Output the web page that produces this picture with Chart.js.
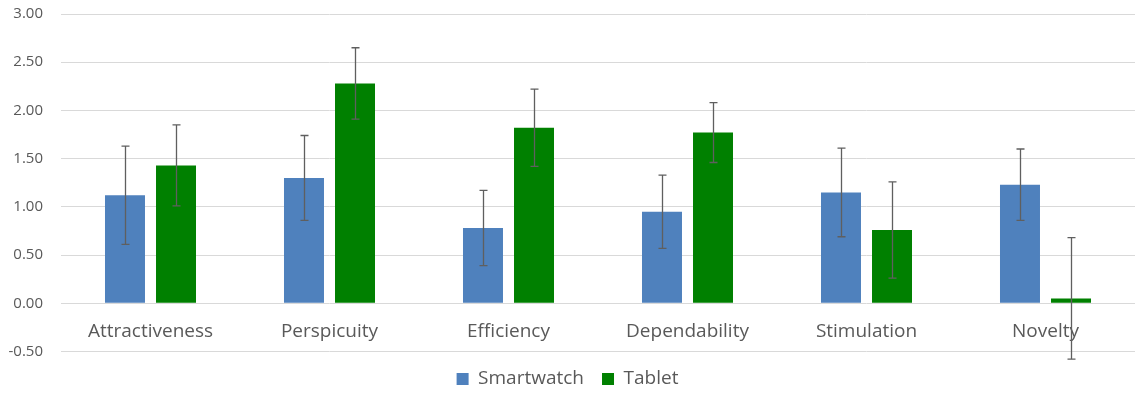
<!DOCTYPE html>
<html>
<head>
<meta charset="utf-8">
<script src="https://cdn.jsdelivr.net/npm/chart.js@4"></script>
<style>
  html, body { margin: 0; padding: 0; background: #ffffff; }
  #wrap { width: 1148px; height: 393px; }
</style>
</head>
<body>
<div id="wrap"><canvas id="c" width="1148" height="393"></canvas></div>
<script>
const categories = ["Attractiveness", "Perspicuity", "Efficiency", "Dependability", "Stimulation", "Novelty"];
const smartwatch = [1.12, 1.30, 0.78, 0.95, 1.15, 1.23];
const smartwatchErr = [0.51, 0.44, 0.39, 0.38, 0.46, 0.37];
const tablet = [1.43, 2.28, 1.82, 1.77, 0.76, 0.05];
const tabletErr = [0.42, 0.37, 0.40, 0.31, 0.50, 0.63];
const yTicks = [-0.5, 0, 0.5, 1, 1.5, 2, 2.5, 3];

const FONT = "'Open Sans', 'Liberation Sans', sans-serif";
const TEXT = "#595959";

const errorBars = {
  id: 'errorBars',
  afterDatasetsDraw(chart) {
    const ctx = chart.ctx;
    const y = chart.scales.y;
    chart.data.datasets.forEach((ds, di) => {
      const meta = chart.getDatasetMeta(di);
      meta.data.forEach((bar, i) => {
        const v = ds.data[i], e = ds.errors[i];
        const yt = y.getPixelForValue(v + e);
        const yb = y.getPixelForValue(v - e);
        const x = Math.round(bar.x) + 0.5;
        ctx.save();
        ctx.strokeStyle = '#5f5f5f';
        ctx.lineWidth = 1.3;
        ctx.beginPath();
        ctx.moveTo(x, yt); ctx.lineTo(x, yb);
        ctx.moveTo(x - 4, yt); ctx.lineTo(x + 4, yt);
        ctx.moveTo(x - 4, yb); ctx.lineTo(x + 4, yb);
        ctx.stroke();
        ctx.restore();
      });
    });
  }
};

new Chart(document.getElementById('c'), {
  type: 'bar',
  data: {
    labels: categories,
    datasets: [
      { label: 'Smartwatch', data: smartwatch, errors: smartwatchErr, backgroundColor: '#4F81BD',
        categoryPercentage: 0.57, barPercentage: 0.784 },
      { label: 'Tablet', data: tablet, errors: tabletErr, backgroundColor: '#008000',
        categoryPercentage: 0.57, barPercentage: 0.784 }
    ]
  },
  options: {
    responsive: false,
    animation: false,
    layout: { padding: { left: 0, right: 13, top: 14, bottom: -5.5 } },
    plugins: {
      tooltip: { enabled: false },
      legend: {
        position: 'bottom',
        labels: {
          boxWidth: 12, boxHeight: 12, padding: 18,
          color: TEXT,
          font: { family: FONT, size: 19 }
        }
      }
    },
    scales: {
      x: {
        position: { y: 0 },
        grid: { display: false },
        border: { display: false },
        ticks: { color: TEXT, padding: 9, font: { family: FONT, size: 19 } }
      },
      y: {
        min: -0.5, max: 3,
        afterBuildTicks(scale) { scale.ticks = yTicks.map(v => ({ value: v })); },
        afterFit(scale) { scale.width = 61; scale.paddingTop = 0; scale.paddingBottom = 0; },
        grid: { color: '#D9D9D9', lineWidth: 1, drawTicks: false },
        border: { display: false },
        ticks: {
          color: TEXT, padding: 18,
          font: { family: FONT, size: 15 },
          callback: v => Number(v).toFixed(2)
        }
      }
    }
  },
  plugins: [errorBars]
});
</script>
</body>
</html>
